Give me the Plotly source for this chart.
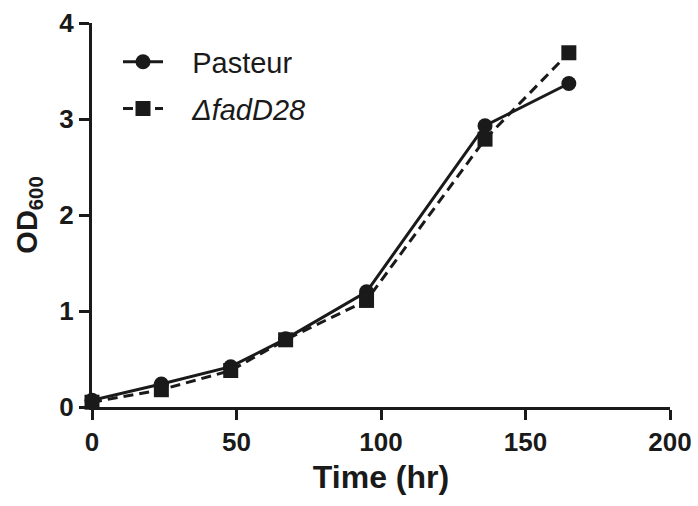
import plotly.graph_objects as go

time_pasteur = [0, 24, 48, 67, 95, 136, 165]
od_pasteur = [0.07, 0.24, 0.42, 0.71, 1.20, 2.93, 3.37]
time_fad = [0, 24, 48, 67, 95, 136, 165]
od_fad = [0.05, 0.18, 0.38, 0.70, 1.11, 2.79, 3.69]

x_ticks = [0, 50, 100, 150, 200]
y_ticks = [0, 1, 2, 3, 4]

FONT = "Liberation Sans, Arial, sans-serif"
BLACK = "#1a1a1a"
PAD = "\u00a0\u00a0\u00a0"

fig = go.Figure()
fig.add_trace(go.Scatter(
    x=time_pasteur, y=od_pasteur, name=PAD + "Pasteur", mode="lines+markers",
    line=dict(color=BLACK, width=3),
    marker=dict(symbol="circle", size=15, color=BLACK),
    cliponaxis=False, legendgroup="a",
))
fig.add_trace(go.Scatter(
    x=time_fad, y=od_fad, name=PAD + "<i>ΔfadD28</i>", mode="lines+markers",
    line=dict(color=BLACK, width=3, dash="10px,6px"),
    marker=dict(symbol="square", size=15, color=BLACK),
    cliponaxis=False, legendgroup="b",
))

fig.update_layout(
    width=698, height=506,
    margin=dict(l=92, r=28, t=23, b=99),
    paper_bgcolor="white", plot_bgcolor="white",
    font=dict(family=FONT, color=BLACK),
    showlegend=True,
    legend=dict(
        x=0.045, y=0.965, xanchor="left", yanchor="top",
        font=dict(size=29, family=FONT, color=BLACK),
        bgcolor="rgba(0,0,0,0)", tracegroupgap=6, itemwidth=40,
    ),
    xaxis=dict(
        range=[0, 200], tickvals=x_ticks, ticktext=[str(v) for v in x_ticks],
        showline=True, linecolor=BLACK, linewidth=3, automargin=False,
        ticks="outside", ticklen=10, tickwidth=3, tickcolor=BLACK,
        showgrid=False, zeroline=False,
        tickfont=dict(size=26, family=FONT, color=BLACK, weight="bold"),
        title=dict(text="<b>Time (hr)</b>", font=dict(size=32, family=FONT, color=BLACK), standoff=10),
    ),
    yaxis=dict(
        range=[0, 4], tickvals=y_ticks, ticktext=[str(v) for v in y_ticks],
        showline=True, linecolor=BLACK, linewidth=3, automargin=False,
        ticks="outside", ticklen=10, tickwidth=3, tickcolor=BLACK,
        showgrid=False, zeroline=False,
        tickfont=dict(size=26, family=FONT, color=BLACK, weight="bold"),
        title=dict(text="<b>OD<sub>600</sub></b>", font=dict(size=29, family=FONT, color=BLACK), standoff=14),
    ),
)

fig.write_html("out.html")
